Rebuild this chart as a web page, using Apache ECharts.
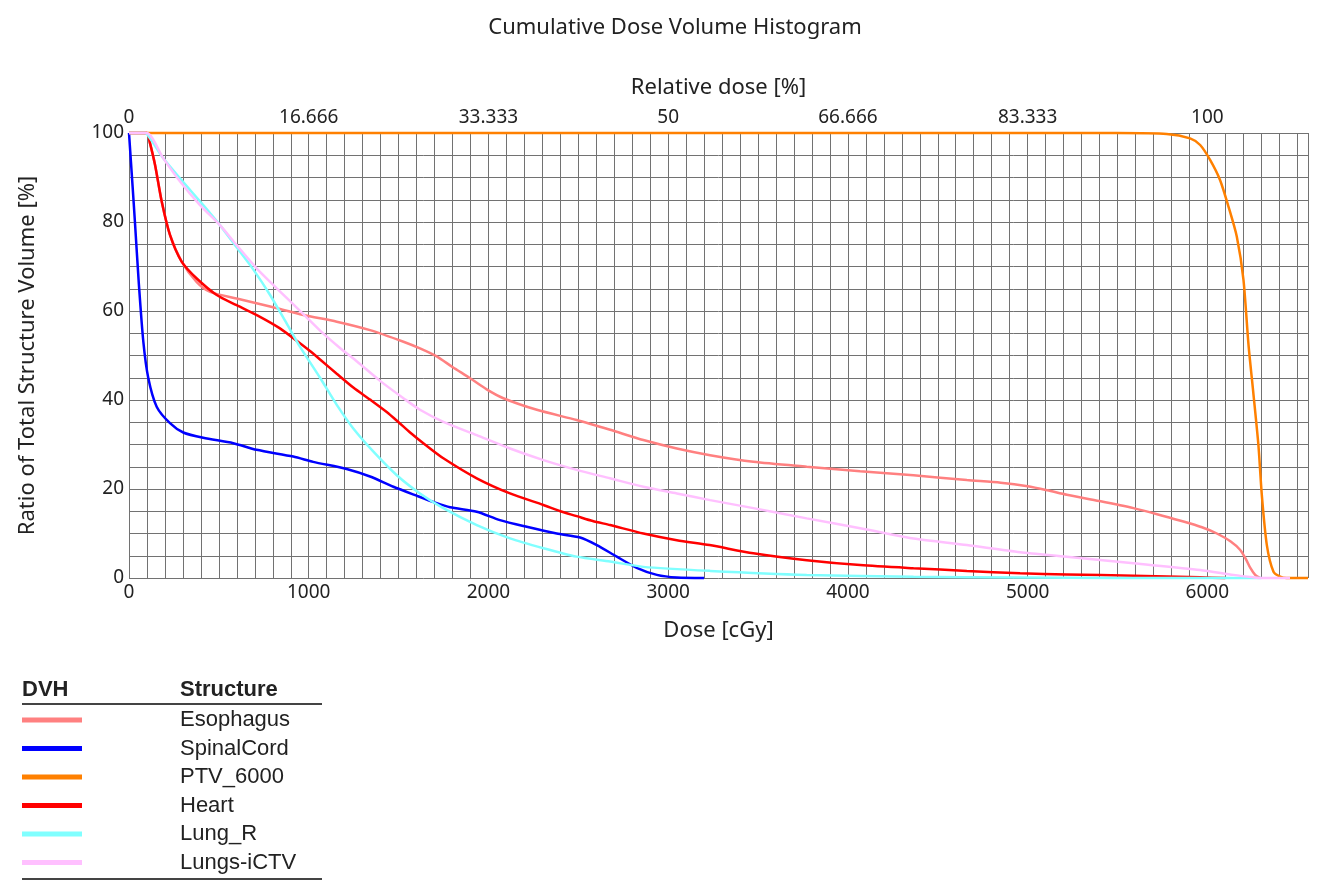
<!DOCTYPE html>
<html>
<head>
<meta charset="utf-8">
<script src="https://cdn.jsdelivr.net/npm/echarts@6/dist/echarts.min.js"></script>
<style>
  html, body { margin: 0; padding: 0; background: #fff; }
  #chart { width: 1323px; height: 888px; }
</style>
</head>
<body>
<div id="chart"></div>
<script>
// structures and their colours (legend order)
const structures = ['Esophagus', 'SpinalCord', 'PTV_6000', 'Heart', 'Lung_R', 'Lungs-iCTV'];
const colors = ['#ff8080', '#0000ff', '#ff8000', '#ff0000', '#80ffff', '#ffc0ff'];

// top axis tick labels (relative dose, 6000 cGy = 100 %)
const relLabels = ['0', '16.666', '33.333', '50', '66.666', '83.333', '100'];

// [dose cGy, volume %]
const esophagus = [[0,100],[100,100],[115,98],[145,92.8],[182,84.6],[228,77.1],[293,71.1],[377,66.5],[451,64.3],[599,62.8],[785,61.0],[970,59.1],[1156,57.6],[1341,55.7],[1527,53.1],[1619,51.6],[1712,49.8],[1800,47.4],[1898,44.9],[1990,42.4],[2083,40.4],[2269,37.8],[2491,35.5],[2677,33.3],[2862,31.0],[3048,29.1],[3233,27.6],[3474,26.1],[3771,25.0],[4068,24.0],[4365,23.1],[4662,22.0],[4850,21.4],[5000,20.6],[5110,19.7],[5218,18.7],[5400,17.3],[5589,15.7],[5750,14.0],[5867,12.7],[5970,11.4],[6053,10.0],[6130,8.2],[6183,6.3],[6215,4.2],[6240,2.2],[6266,0.7],[6295,0]];
const spinalCord = [[0,100],[20,88],[33,80],[55,66],[80,53],[107,45],[154,38.5],[228,34.8],[302,32.7],[413,31.5],[580,30.3],[710,28.8],[914,27.3],[1025,26.1],[1211,24.5],[1341,22.8],[1471,20.5],[1600,18.5],[1700,17.0],[1786,15.9],[1935,14.9],[2064,13.0],[2213,11.5],[2380,10.0],[2510,9.1],[2603,7.4],[2714,4.8],[2825,2.3],[2937,0.7],[3048,0.1],[3200,0]];
const ptv6000 = [[0,100],[5500,100],[5774,99.8],[5904,98.8],[5960,97.3],[6016,93.9],[6071,89.4],[6118,83.4],[6164,76.7],[6201,67.0],[6229,52.4],[6257,41.1],[6284,29.9],[6303,18.7],[6331,7.4],[6368,1.4],[6405,0.3],[6440,0],[6560,0]];
const heart = [[0,100],[100,100],[115,98],[145,92.8],[182,84.6],[228,77.1],[293,71.1],[377,67.3],[488,63.6],[599,61.3],[729,58.7],[840,56.1],[933,53.3],[1007,51.0],[1063,49.1],[1156,45.9],[1248,42.8],[1341,40.1],[1434,37.3],[1500,35.0],[1564,32.7],[1650,29.9],[1749,26.9],[1935,22.4],[2120,19.0],[2306,16.4],[2400,15.0],[2491,13.9],[2580,12.8],[2677,11.9],[2862,10.0],[3048,8.5],[3230,7.4],[3474,5.55],[3771,4.0],[4068,2.9],[4365,2.2],[4662,1.6],[4958,1.05],[5218,0.8],[5589,0.5],[5960,0.15],[6100,0]];
const lungR = [[0,100],[90,100],[117,98.8],[191,94.3],[284,89.8],[413,83.8],[506,79.3],[599,74.3],[692,69.3],[785,63.6],[877,57.2],[951,52.0],[1063,45.0],[1156,38.9],[1248,33.6],[1360,28.4],[1490,23.1],[1619,19.0],[1749,15.7],[1935,11.9],[2120,8.9],[2306,6.7],[2491,4.8],[2677,3.7],[2862,2.5],[3233,1.6],[3771,0.7],[4365,0.3],[4958,0.1],[5500,0],[6300,0]];
const lungsICTV = [[0,100],[98,100],[191,94.3],[284,89.1],[395,83.8],[506,79.3],[599,74.8],[710,69.6],[822,65.1],[970,59.3],[1063,55.6],[1174,51.7],[1270,48.6],[1397,44.3],[1527,40.4],[1619,37.8],[1749,35.1],[1935,32.1],[2120,29.1],[2306,26.5],[2491,24.3],[2677,22.4],[2862,20.5],[3048,19.0],[3233,17.5],[3474,15.7],[3771,13.4],[4068,11.2],[4216,10.0],[4365,8.9],[4662,7.4],[4958,5.8],[5218,4.8],[5589,3.3],[5960,1.8],[6145,0.7],[6257,0.15],[6300,0],[6460,0]];

const seriesData = [esophagus, spinalCord, ptv6000, heart, lungR, lungsICTV];

const labelFont = 'Noto Sans';
const gridColor = '#727272';

const chart = echarts.init(document.getElementById('chart'));

const option = {
  animation: false,
  title: {
    text: 'Cumulative Dose Volume Histogram',
    left: 670,
    textAlign: 'center',
    top: 12,
    textStyle: { fontFamily: labelFont, fontSize: 22, fontWeight: 'normal', color: '#222' }
  },
  grid: { left: 129, right: 15, top: 133, bottom: 310 },
  legend: {
    orient: 'vertical',
    left: 22,
    top: 709,
    padding: 0,
    itemWidth: 60,
    itemHeight: 5,
    itemGap: 6.5,
    icon: 'rect',
    selectedMode: false,
    data: structures,
    textStyle: {
      fontFamily: 'Liberation Sans',
      fontSize: 22,
      lineHeight: 22,
      color: '#222',
      padding: [0, 0, 0, 93]
    }
  },
  graphic: [
    { type: 'text', left: 22, top: 679, style: { text: 'DVH', font: 'bold 22px "Liberation Sans"', fill: '#222' } },
    { type: 'text', left: 180, top: 679, style: { text: 'Structure', font: 'bold 22px "Liberation Sans"', fill: '#222' } },
    { type: 'line', shape: { x1: 22, y1: 704, x2: 322, y2: 704 }, style: { stroke: '#444', lineWidth: 2 } },
    { type: 'line', shape: { x1: 22, y1: 879, x2: 322, y2: 879 }, style: { stroke: '#444', lineWidth: 2 } }
  ],
  xAxis: [
    {
      type: 'value',
      position: 'bottom',
      min: 0,
      max: 6560,
      interval: 100,
      name: 'Dose [cGy]',
      nameLocation: 'middle',
      nameGap: 42,
      nameTextStyle: { fontFamily: labelFont, fontSize: 22, color: '#222' },
      axisLine: { show: false },
      axisTick: { show: false },
      axisLabel: {
        margin: 5,
        fontFamily: labelFont,
        fontSize: 19,
        color: '#222',
        showMaxLabel: false,
        formatter: v => (v % 1000 === 0 ? String(v) : '')
      },
      splitLine: { show: true, lineStyle: { color: gridColor, width: 1 } }
    },
    {
      type: 'value',
      position: 'top',
      min: 0,
      max: 6560,
      interval: 1000,
      name: 'Relative dose [%]',
      nameLocation: 'middle',
      nameGap: 34,
      nameTextStyle: { fontFamily: labelFont, fontSize: 22, color: '#222' },
      axisLine: { show: false },
      axisTick: { show: false },
      axisLabel: {
        margin: 6,
        fontFamily: labelFont,
        fontSize: 19,
        color: '#222',
        showMaxLabel: false,
        formatter: v => (v % 1000 === 0 ? relLabels[v / 1000] : '')
      },
      splitLine: { show: false }
    }
  ],
  yAxis: {
    type: 'value',
    min: 0,
    max: 100,
    interval: 5,
    name: 'Ratio of Total Structure Volume [%]',
    nameLocation: 'middle',
    nameGap: 90,
    nameTextStyle: { fontFamily: labelFont, fontSize: 22, color: '#222' },
    axisLine: { show: false },
    axisTick: { show: false },
    axisLabel: {
      margin: 5,
      fontFamily: labelFont,
      fontSize: 19,
      color: '#222',
      formatter: v => (v % 20 === 0 ? String(v) : '')
    },
    splitLine: { show: true, lineStyle: { color: gridColor, width: 1 } }
  },
  series: structures.map((name, i) => ({
    name: name,
    type: 'line',
    xAxisIndex: 0,
    data: seriesData[i],
    showSymbol: false,
    smooth: 0.25,
    clip: false,
    color: colors[i],
    lineStyle: { color: colors[i], width: 2.5 }
  }))
};

chart.setOption(option);
</script>
</body>
</html>
